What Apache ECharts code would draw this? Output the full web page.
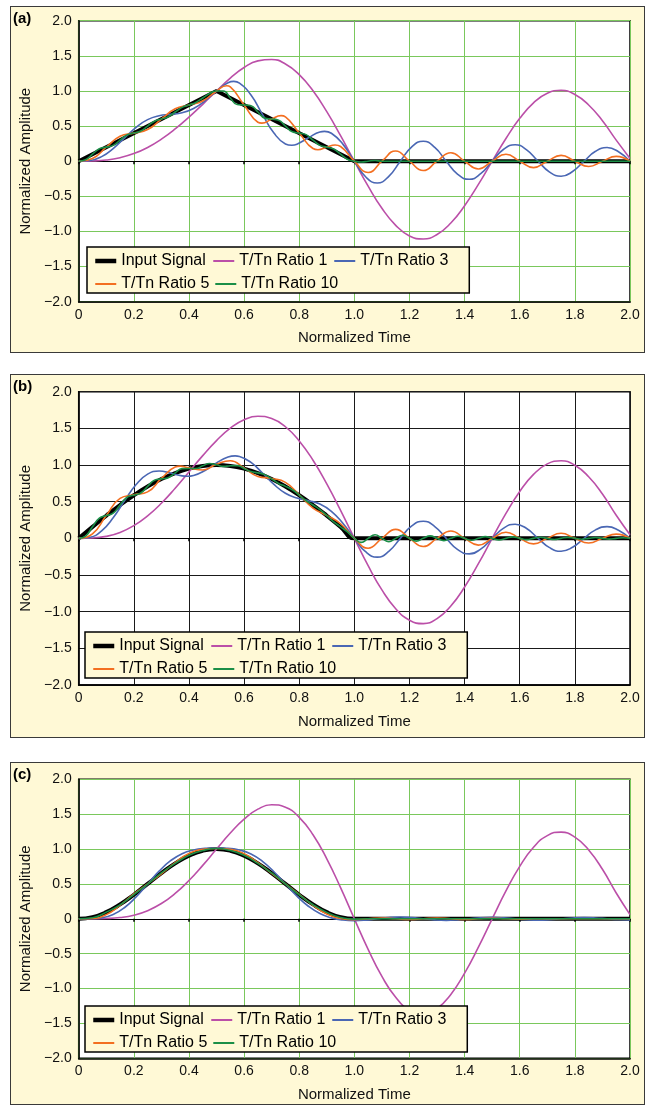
<!DOCTYPE html>
<html>
<head>
<meta charset="utf-8">
<script src="https://cdn.jsdelivr.net/npm/echarts@6/dist/echarts.min.js"></script>
<style>
html, body { margin: 0; padding: 0; background: #fff; }
.panel { position: absolute; background: #fff9d6; border: 1px solid #3a3a3a; box-sizing: border-box; }
#chart { position: absolute; left: 0; top: 0; width: 647px; height: 1108px; }
</style>
</head>
<body>
<div class="panel" style="left:10px;top:6px;width:635px;height:347px"></div>
<div class="panel" style="left:10px;top:374px;width:635px;height:364px"></div>
<div class="panel" style="left:10px;top:762px;width:635px;height:343px"></div>
<div id="chart"></div>
<script>
// sample positions (normalized time)
const grid05 = [0,0.05,0.1,0.15,0.2,0.25,0.3,0.35,0.4,0.45,0.5,0.55,0.6,0.65,0.7,0.75,0.8,0.85,0.9,0.95,
  1,1.05,1.1,1.15,1.2,1.25,1.3,1.35,1.4,1.45,1.5,1.55,1.6,1.65,1.7,1.75,1.8,1.85,1.9,1.95,2];
const grid025 = [0,0.025,0.05,0.075,0.1,0.125,0.15,0.175,0.2,0.225,0.25,0.275,0.3,0.325,0.35,0.375,0.4,0.425,0.45,0.475,
  0.5,0.525,0.55,0.575,0.6,0.625,0.65,0.675,0.7,0.725,0.75,0.775,0.8,0.825,0.85,0.875,0.9,0.925,0.95,0.975,
  1,1.025,1.05,1.075,1.1,1.125,1.15,1.175,1.2,1.225,1.25,1.275,1.3,1.325,1.35,1.375,1.4,1.425,1.45,1.475,
  1.5,1.525,1.55,1.575,1.6,1.625,1.65,1.675,1.7,1.725,1.75,1.775,1.8,1.825,1.85,1.875,1.9,1.925,1.95,1.975,2];
const grid24 = [0,0.0417,0.0833,0.125,0.1667,0.2083,0.25,0.2917,0.3333,0.375,0.4167,0.4583,0.5,
  0.5417,0.5833,0.625,0.6667,0.7083,0.75,0.7917,0.8333,0.875,0.9167,0.9583,1,
  1.0417,1.0833,1.125,1.1667,1.2083,1.25,1.2917,1.3333,1.375,1.4167,1.4583,1.5,
  1.5417,1.5833,1.625,1.6667,1.7083,1.75,1.7917,1.8333,1.875,1.9167,1.9583,2];

const xLabels = ['0','0.2','0.4','0.6','0.8','1.0','1.2','1.4','1.6','1.8','2.0'];
const yLabels = ['\u22122.0','\u22121.5','\u22121.0','\u22120.5','0','0.5','1.0','1.5','2.0'];
const seriesNames = ['Input Signal','T/Tn Ratio 1','T/Tn Ratio 3','T/Tn Ratio 5','T/Tn Ratio 10'];
const panelLabels = ['(a)','(b)','(c)'];

// ---- panel (a): triangular pulse ----
const inputA_t = [0, 0.5, 1, 2];
const inputA = [0, 1, 0, 0];
const ratio1A = [0,0.003,0.016,0.050,0.108,0.196,0.314,0.459,0.627,0.810,1.0,
  1.184,1.334,1.428,1.448,1.384,1.233,1.002,0.705,0.363,0,
  -0.355,-0.670,-0.913,-1.064,-1.108,-1.044,-0.880,-0.633,-0.330,0,
  0.323,0.610,0.831,0.968,1.008,0.950,0.800,0.576,0.300,0.04];
const ratio3A = [0,0.010,0.065,0.180,0.333,0.483,0.592,0.647,0.667,0.689,0.750,0.859,1.0,
  1.118,1.112,0.943,0.667,0.400,0.246,0.242,0.333,0.417,0.398,0.243,0,
  -0.225,-0.311,-0.215,0,0.205,0.283,0.196,0,-0.187,-0.258,-0.178,0,
  0.170,0.235,0.162,0,-0.155,-0.214,-0.147,0,0.141,0.194,0.134,0];
const ratio3A_peaks = [[0.5628, 1.136], [0.7733, 0.227], [0.8917, 0.425]];
const ratio5A = [0,0.039,0.2,0.355,0.4,0.450,0.6,0.746,0.8,0.858,1.0,
  1.059,0.8,0.555,0.6,0.632,0.4,0.180,0.2,0.209,0,
  -0.160,0,0.146,0,-0.133,0,0.121,0,-0.110,0,
  0.100,0,-0.091,0,0.083,0,-0.075,0,0.069,0];
const ratio5A_peaks = [[0.5369, 1.074], [0.6645, 0.542], [0.734, 0.649], [0.8679, 0.164], [0.9301, 0.230]];
const ratio10A = [0,0.020,0.1,0.178,0.2,0.225,0.3,0.373,0.4,0.429,0.5,0.569,0.6,0.633,0.7,0.766,0.8,0.836,0.9,0.963,1.0,
  0.999,0.9,0.806,0.8,0.790,0.7,0.613,0.6,0.584,0.5,0.419,0.4,0.378,0.3,0.225,0.2,0.173,0.1,0.029,0,
  -0.011,0,0.010,0,0,0,0,0,0,0,0,0,0,0,0,0,0,0,0,0,
  0,0,0,0,0,0,0,0,0,0,0,0,0,0,0,0,0,0,0,0];

// ---- panel (b): half-sine pulse ----
const inputB = [0,0.156,0.309,0.454,0.588,0.707,0.809,0.891,0.951,0.988,1,
  0.988,0.951,0.891,0.809,0.707,0.588,0.454,0.309,0.156,0,
  0,0,0,0,0,0,0,0,0,0,0,0,0,0,0,0,0,0,0,0];
const ratio1B = [0,0.004,0.027,0.081,0.173,0.307,0.479,0.683,0.905,1.128,1.333,
  1.503,1.618,1.665,1.634,1.522,1.329,1.065,0.743,0.381,0,
  -0.373,-0.703,-0.959,-1.116,-1.163,-1.095,-0.923,-0.664,-0.346,0,
  0.340,0.640,0.872,1.016,1.058,0.997,0.840,0.605,0.315,0.05];
const ratio3B = [0,0.016,0.103,0.281,0.514,0.734,0.876,0.919,0.891,0.852,0.858,0.926,1.029,
  1.109,1.117,1.035,0.891,0.735,0.615,0.549,0.514,0.468,0.368,0.205,0,
  -0.186,-0.256,-0.177,0,0.169,0.233,0.161,0,-0.154,-0.212,-0.147,0,
  0.140,0.193,0.134,0,-0.127,-0.176,-0.122,0,0.116,0.160,0.111,0];
const ratio3B_peaks = [[0.394, 0.847], [0.5675, 1.125]];
const ratio5B = [0,0.062,0.312,0.546,0.594,0.634,0.817,0.973,0.961,0.932,1.010,
  1.058,0.961,0.845,0.817,0.764,0.594,0.413,0.312,0.199,0,
  -0.134,0,0.122,0,-0.111,0,0.101,0,-0.092,0,
  0.084,0,-0.076,0,0.069,0,-0.063,0,0.057,0];
const ratio5B_peaks = [[0.368, 0.985]];
const ratio10B = [0,0.031,0.157,0.277,0.310,0.344,0.455,0.560,0.589,0.618,0.709,0.792,0.811,0.828,0.893,0.951,0.953,0.952,0.990,1.020,1.003,
  0.981,0.990,0.992,0.953,0.911,0.893,0.869,0.811,0.749,0.709,0.663,0.589,0.513,0.455,0.393,0.310,0.225,0.157,0.087,0,
  -0.055,0,0.050,0,-0.046,0,0.042,0,-0.038,0,0.034,0,-0.031,0,0.029,0,-0.026,0,0.024,0,
  -0.022,0,0.020,0,-0.018,0,0.016,0,-0.015,0,0.013,0,-0.012,0,0.011,0,-0.010,0,0.009,0];

// ---- panel (c): versed-sine pulse ----
const inputC = [0,0.024,0.095,0.206,0.345,0.5,0.655,0.794,0.905,0.976,1,
  0.976,0.905,0.794,0.655,0.5,0.345,0.206,0.095,0.024,0,
  0,0,0,0,0,0,0,0,0,0,0,0,0,0,0,0,0,0,0,0];
const ratio1C = [0,0.000,0.004,0.018,0.052,0.117,0.219,0.364,0.549,0.766,1.0,
  1.229,1.429,1.572,1.635,1.599,1.455,1.205,0.860,0.447,0,
  -0.438,-0.826,-1.126,-1.311,-1.366,-1.287,-1.084,-0.780,-0.406,0,
  0.399,0.751,1.025,1.193,1.243,1.171,0.987,0.710,0.370,0.06];
const ratio3C = [0,0.000,0.013,0.061,0.162,0.315,0.5,0.683,0.833,0.934,0.987,1.009,1.015,
  1.011,0.987,0.929,0.824,0.675,0.5,0.326,0.180,0.075,0.013,-0.018,-0.027,
  -0.019,0,0.018,0.025,0.017,0,-0.016,-0.022,-0.015,0,0.015,0.020,
  0.014,0,-0.013,-0.019,-0.013,0,0.012,0.017,0.012,0,-0.011,-0.015];
const ratio5C = [0,0.005,0.060,0.194,0.356,0.5,0.645,0.806,0.936,0.995,1.008,
  0.995,0.933,0.806,0.650,0.5,0.349,0.194,0.070,0.005,-0.013,
  0,0.012,0,-0.011,0,0.010,0,-0.009,0,0.008,
  0,-0.007,0,0,0,0,0,0,0,0];
const ratio10C = [0,0.015,0.096,0.199,0.347,0.497,0.659,0.794,0.911,0.978,1.007,
  0.979,0.910,0.795,0.657,0.499,0.345,0.202,0.092,0.019,-0.004,
  0,0,0,0,0,0,0,0,0,0,0,0,0,0,0,0,0,0,0,0];

// pair sample times with values, merging any read-off extreme points
const pts = (xs, ys, extra) => xs.map((x, i) => [x, ys[i]])
  .concat(extra || []).sort((a, b) => a[0] - b[0]);

const panels = [
  { top: 20.7, height: 281, grid: '#7ac85c', labelTop: 11, legend: { left: 87, top: 247 },
    data: [pts(inputA_t, inputA), pts(grid05, ratio1A), pts(grid24, ratio3A, ratio3A_peaks),
      pts(grid05, ratio5A, ratio5A_peaks), pts(grid025, ratio10A)] },
  { top: 391.7, height: 293.3, grid: '#1a1a1a', labelTop: 379, legend: { left: 85, top: 632 },
    data: [pts(grid05, inputB), pts(grid05, ratio1B), pts(grid24, ratio3B, ratio3B_peaks),
      pts(grid05, ratio5B, ratio5B_peaks), pts(grid025, ratio10B)] },
  { top: 779.3, height: 279, grid: '#7ac85c', labelTop: 767, legend: { left: 85, top: 1006 },
    data: [pts(grid05, inputC), pts(grid05, ratio1C), pts(grid24, ratio3C),
      pts(grid05, ratio5C), pts(grid05, ratio10C)] }
];

const colors = ['#000000', '#bb4fa8', '#4a67b4', '#f36f21', '#1b8f47'];
const widths = [4, 1.6, 1.6, 1.6, 1.6];
const font = 'Liberation Sans, Arial, sans-serif';

const option = { animation: false, grid: [], xAxis: [], yAxis: [], series: [], legend: [], title: [] };

panels.forEach((p, i) => {
  option.grid.push({
    left: 78.7, width: 551.3, top: p.top, height: p.height, show: true,
    backgroundColor: '#fff', borderColor: '#000', borderWidth: 1.5, outerBoundsMode: 'none'
  });
  // labelled axis at the bottom of the plot
  option.xAxis.push({
    type: 'value', gridIndex: i, min: 0, max: 2, interval: 0.2, position: 'bottom',
    axisLine: { show: true, onZero: false, lineStyle: { color: '#000', width: 1.5 } },
    axisTick: { show: false },
    axisLabel: { color: '#111', fontSize: 14, fontFamily: font, margin: 6, showMinLabel: true, showMaxLabel: true,
      formatter: v => xLabels[Math.round(v * 5)] },
    splitLine: { show: true, lineStyle: { color: p.grid, width: 1 } },
    name: 'Normalized Time', nameLocation: 'middle', nameGap: 29,
    nameTextStyle: { color: '#111', fontSize: 15, fontFamily: font }
  });
  // tick marks along the zero line
  option.xAxis.push({
    type: 'value', gridIndex: i, min: 0, max: 2, interval: 0.2, position: 'bottom',
    axisLine: { show: true, onZero: true, lineStyle: { color: '#000', width: 1 } },
    axisTick: { show: true, length: 3, lineStyle: { color: '#000', width: 1.5 } },
    axisLabel: { show: false }, splitLine: { show: false }
  });
  option.yAxis.push({
    type: 'value', gridIndex: i, min: -2, max: 2, interval: 0.5,
    axisLine: { show: true, onZero: false, lineStyle: { color: '#000', width: 1.5 } },
    axisTick: { show: false },
    axisLabel: { color: '#111', fontSize: 14, fontFamily: font, margin: 7, showMinLabel: true, showMaxLabel: true,
      formatter: v => yLabels[Math.round((v + 2) * 2)] },
    splitLine: { show: true, lineStyle: { color: p.grid, width: 1 } },
    name: 'Normalized Amplitude', nameLocation: 'middle', nameGap: 43,
    nameTextStyle: { color: '#111', fontSize: 15, fontFamily: font }
  });
  seriesNames.forEach((name, j) => {
    option.series.push({
      type: 'line', name: name, xAxisIndex: i * 2, yAxisIndex: i,
      data: p.data[j], symbol: 'none', showSymbol: false,
      smooth: (i === 0 && j === 0) ? false : 0.5,
      color: colors[j], lineStyle: { color: colors[j], width: widths[j] }, z: 2
    });
  });
  option.legend.push({
    left: p.legend.left, top: p.legend.top, orient: 'horizontal', width: 360,
    itemWidth: 21, itemHeight: 14, itemGap: 5, padding: [5, 21, 0, 6],
    backgroundColor: '#fff9d6', borderColor: '#000', borderWidth: 1.5, borderRadius: 0,
    selectedMode: false, itemStyle: { opacity: 0 },
    textStyle: { color: '#000', fontSize: 16, fontFamily: font, width: 86, lineHeight: 18 },
    data: seriesNames.map((name, j) => ({
      name: name,
      lineStyle: { color: colors[j], width: j === 0 ? 4.5 : 2 },
      textStyle: j === 1 ? { width: 89 } : undefined
    }))
  });
  option.title.push({
    text: panelLabels[i], left: 13, top: p.labelTop, padding: 0,
    textStyle: { color: '#000', fontSize: 15, fontWeight: 'bold', fontFamily: font }
  });
});

const chart = echarts.init(document.getElementById('chart'), null, { renderer: 'canvas' });
chart.setOption(option);
</script>
</body>
</html>
